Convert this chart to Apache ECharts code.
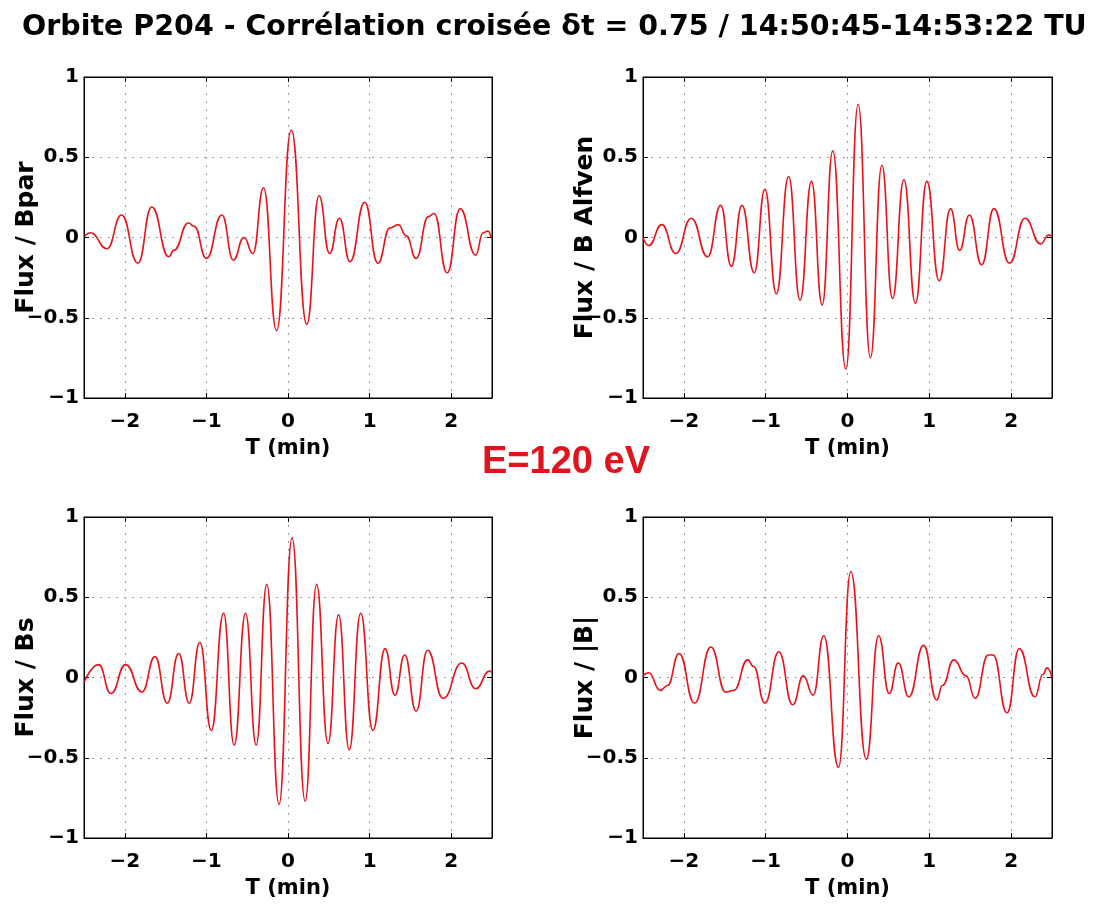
<!DOCTYPE html>
<html>
<head>
<meta charset="utf-8">
<script src="https://cdn.jsdelivr.net/npm/echarts@6/dist/echarts.min.js"></script>
<style>
html,body{margin:0;padding:0;background:#fff;}
#chart{width:1099px;height:904px;}
</style>
</head>
<body>
<div id="chart"></div>
<script>
// ---- Data ----
const xTicks = [-2, -1, 0, 1, 2];
const yTicks = [-1, -0.5, 0, 0.5, 1];

const panelTitles = ['Flux / Bpar', 'Flux / B Alfven', 'Flux / Bs', 'Flux / |B|'];
const mainTitle = 'Orbite P204 - Corrélation croisée δt = 0.75 / 14:50:45-14:53:22 TU';
const energyLabel = 'E=120 eV';

// Flux / Bpar (extrema and shoulders)
const bparT = [-2.49,-2.42,-2.22,-2.04,-1.84,-1.67,-1.46,-1.40,-1.22,-1.15,-1.00,-0.81,-0.67,-0.54,-0.43,-0.30,-0.14,0.04,0.23,0.38,0.51,0.63,0.76,0.94,1.10,1.25,1.35,1.45,1.57,1.72,1.79,1.95,2.11,2.30,2.39,2.45,2.49];
const bparV = [0.01,0.03,-0.07,0.14,-0.16,0.19,-0.12,-0.08,0.09,0.07,-0.13,0.14,-0.14,0.00,-0.10,0.31,-0.58,0.67,-0.54,0.26,-0.10,0.12,-0.15,0.22,-0.16,0.06,0.08,0.01,-0.13,0.13,0.15,-0.22,0.18,-0.11,0.03,0.04,0.00];

// Flux / B Alfven
const alfvenT = [-2.50,-2.43,-2.27,-2.10,-1.91,-1.71,-1.55,-1.42,-1.29,-1.14,-1.01,-0.87,-0.72,-0.58,-0.44,-0.31,-0.18,-0.02,0.13,0.28,0.42,0.55,0.69,0.83,0.97,1.12,1.26,1.37,1.49,1.64,1.79,1.98,2.17,2.36,2.46,2.50];
const alfvenV = [0.00,-0.05,0.08,-0.10,0.12,-0.12,0.20,-0.18,0.20,-0.22,0.30,-0.35,0.38,-0.39,0.35,-0.42,0.54,-0.82,0.83,-0.75,0.45,-0.38,0.36,-0.41,0.35,-0.27,0.18,-0.08,0.14,-0.17,0.18,-0.16,0.12,-0.04,0.015,0.01];

// Flux / Bs
const bsT = [-2.50,-2.32,-2.17,-1.99,-1.79,-1.63,-1.48,-1.34,-1.21,-1.08,-0.94,-0.79,-0.66,-0.52,-0.39,-0.26,-0.11,0.05,0.21,0.35,0.49,0.62,0.75,0.89,1.04,1.19,1.31,1.43,1.57,1.71,1.90,2.13,2.30,2.47,2.50];
const bsV = [-0.03,0.08,-0.10,0.08,-0.09,0.13,-0.16,0.15,-0.16,0.22,-0.33,0.40,-0.42,0.40,-0.42,0.58,-0.79,0.87,-0.77,0.58,-0.41,0.39,-0.45,0.40,-0.33,0.18,-0.11,0.14,-0.21,0.17,-0.13,0.09,-0.07,0.04,0.03];

// Flux / |B|
const bmodT = [-2.50,-2.43,-2.29,-2.20,-2.06,-1.87,-1.67,-1.49,-1.39,-1.22,-1.15,-1.01,-0.84,-0.67,-0.54,-0.42,-0.29,-0.11,0.04,0.23,0.38,0.51,0.62,0.75,0.93,1.09,1.16,1.30,1.45,1.56,1.72,1.78,1.95,2.10,2.29,2.39,2.44,2.50];
const bmodV = [0.01,0.03,-0.08,-0.05,0.15,-0.16,0.19,-0.09,-0.08,0.11,0.07,-0.16,0.16,-0.17,0.01,-0.11,0.26,-0.56,0.66,-0.51,0.26,-0.10,0.09,-0.12,0.20,-0.14,-0.05,0.11,0.01,-0.13,0.14,0.14,-0.22,0.18,-0.12,0.02,0.06,0.00];

// ---- Build chart ----
const seriesT = [bparT, alfvenT, bsT, bmodT];
const seriesV = [bparV, alfvenV, bsV, bmodV];

const grids = [
  {left: 84,  top: 77,  width: 408, height: 321},
  {left: 643, top: 77,  width: 409, height: 321},
  {left: 84,  top: 517, width: 408, height: 321},
  {left: 643, top: 517, width: 409, height: 321}
];

const FONT = 'DejaVu Sans';
const fmt = v => String(v).replace('-', '\u2212');
const lineColor = '#e8121b';

const xAxes = [], yAxes = [], series = [];
grids.forEach((g, i) => {
  xAxes.push({
    gridIndex: i, type: 'value', min: -2.5, max: 2.5, position: 'bottom',
    name: 'T (min)', nameLocation: 'middle', nameGap: 40, nameMoveOverlap: false,
    nameTextStyle: {fontFamily: FONT, fontWeight: 'bold', fontSize: 21, color: '#000'},
    axisLine: {show: true, onZero: false, lineStyle: {color: '#000', width: 1}},
    axisTick: {show: true, inside: true, length: 5, customValues: xTicks, lineStyle: {color: '#000'}},
    axisLabel: {customValues: xTicks, formatter: fmt, margin: 14, fontFamily: FONT, fontWeight: 'bold', fontSize: 20, color: '#000'},
    splitLine: {show: true, lineStyle: {color: '#9a9a9a', type: [2, 6], width: 1}}
  });
  xAxes.push({
    gridIndex: i, type: 'value', min: -2.5, max: 2.5, position: 'top',
    axisLine: {show: true, onZero: false, lineStyle: {color: '#000', width: 1}},
    axisTick: {show: true, inside: true, length: 5, customValues: xTicks, lineStyle: {color: '#000'}},
    axisLabel: {show: false},
    splitLine: {show: false}
  });
  yAxes.push({
    gridIndex: i, type: 'value', min: -1, max: 1, interval: 0.5, position: 'left',
    name: panelTitles[i], nameLocation: 'middle', nameGap: 45, nameMoveOverlap: false,
    nameTextStyle: {fontFamily: FONT, fontWeight: 'bold', fontSize: 25, color: '#000'},
    axisLine: {show: true, onZero: false, lineStyle: {color: '#000', width: 1}},
    axisTick: {show: true, inside: true, length: 5, lineStyle: {color: '#000'}},
    axisLabel: {formatter: fmt, margin: 5, fontFamily: FONT, fontWeight: 'bold', fontSize: 20, color: '#000'},
    splitLine: {show: true, lineStyle: {color: '#9a9a9a', type: [2, 6], width: 1}}
  });
  yAxes.push({
    gridIndex: i, type: 'value', min: -1, max: 1, interval: 0.5, position: 'right',
    axisLine: {show: true, onZero: false, lineStyle: {color: '#000', width: 1}},
    axisTick: {show: true, inside: true, length: 5, lineStyle: {color: '#000'}},
    axisLabel: {show: false},
    splitLine: {show: false}
  });
  series.push({
    type: 'line', xAxisIndex: 2 * i, yAxisIndex: 2 * i,
    data: seriesT[i].map((t, k) => [t, seriesV[i][k]]),
    symbol: 'none', smooth: 0.5, smoothMonotone: 'x', clip: true,
    lineStyle: {color: lineColor, width: 1.6},
    animation: false
  });
});

const chart = echarts.init(document.getElementById('chart'), null, {renderer: 'canvas'});
chart.setOption({
  backgroundColor: '#fff',
  animation: false,
  title: {
    text: mainTitle, left: 17, top: 8,
    textStyle: {fontFamily: FONT, fontWeight: 'bold', fontSize: 28.5, color: '#000'}
  },
  graphic: [{
    type: 'text', x: 566, y: 463,
    style: {text: energyLabel, fill: '#e0141e', font: 'bold 38px "Liberation Sans", Arial, sans-serif', align: 'center', verticalAlign: 'middle', textAlign: 'center', textVerticalAlign: 'middle'}
  }],
  grid: grids.map(g => Object.assign({show: true, borderColor: '#000', borderWidth: 1, backgroundColor: 'transparent', containLabel: false}, g)),
  xAxis: xAxes,
  yAxis: yAxes,
  series: series
});
</script>
</body>
</html>
